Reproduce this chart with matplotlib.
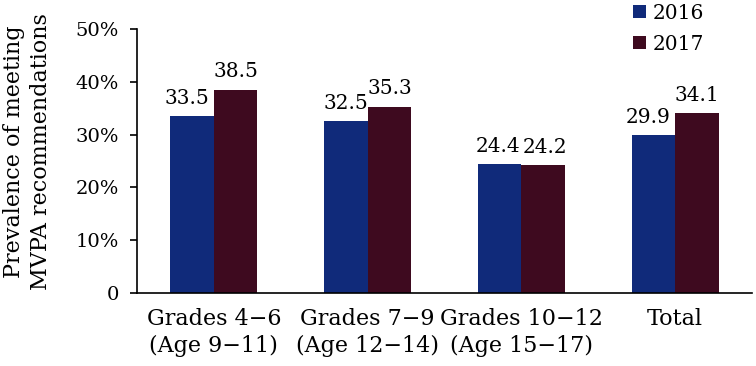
import matplotlib.pyplot as plt
import numpy as np

plt.rcParams['font.family'] = ['DejaVu Serif']
plt.rcParams['font.size'] = 14.5

categories = ["Grades 4\u22126\n(Age 9\u221211)", "Grades 7\u22129\n(Age 12\u221214)",
              "Grades 10\u221212\n(Age 15\u221217)", "Total"]
vals_2016 = [33.5, 32.5, 24.4, 29.9]
vals_2017 = [38.5, 35.3, 24.2, 34.1]
yticks = [0, 10, 20, 30, 40, 50]
ytick_labels = ["0", "10%", "20%", "30%", "40%", "50%"]

c16 = "#102a7a"
c17 = "#3e0a1f"
w = 0.283

fig = plt.figure(figsize=(7.56, 3.66), dpi=100)
ax = fig.add_axes([137 / 756, 1 - 293 / 366, 615 / 756, 264 / 366])

x = np.arange(len(categories))
b1 = ax.bar(x - w / 2, vals_2016, w, color=c16, label="2016")
b2 = ax.bar(x + w / 2, vals_2017, w, color=c17, label="2017")

# nudge labels sideways so they do not run into the neighbour bar / label
for i, (v1, v2) in enumerate(zip(vals_2016, vals_2017)):
    dx1, dx2 = 0, 0
    if v2 - v1 > 3:
        dx1 = -4
    elif abs(v2 - v1) < 1:
        dx1, dx2 = -1.5, 1.5
    ax.annotate(f"{v1}", (x[i] - w / 2, v1), xytext=(dx1, 6), textcoords="offset points",
                ha="center", va="bottom", fontsize=14.5)
    ax.annotate(f"{v2}", (x[i] + w / 2, v2), xytext=(dx2, 6), textcoords="offset points",
                ha="center", va="bottom", fontsize=14.5)

ax.set_xlim(-0.5, 3.5)
ax.set_ylim(0, 50)
ax.set_yticks(yticks)
ax.set_yticklabels(ytick_labels, fontsize=14)
ax.set_xticks(x)
ax.set_xticklabels(categories, linespacing=1.3, fontsize=16)
ax.tick_params(axis="x", length=0, pad=11)
ax.tick_params(axis="y", length=5, width=1.2, pad=8)
for s in ["top", "right"]:
    ax.spines[s].set_visible(False)
ax.spines["left"].set_linewidth(1.2)
ax.spines["bottom"].set_linewidth(1.2)

ax.set_ylabel("Prevalence of meeting\nMVPA recommendations", linespacing=1.25, fontsize=16)
ax.yaxis.set_label_coords(-0.139, 0.535)

fig.legend(handles=[b1, b2], loc="upper left", bbox_to_anchor=(633 / 756, 0.99),
           frameon=False, handlelength=0.65, handleheight=0.65, handletextpad=0.35,
           labelspacing=0.6, borderaxespad=0, borderpad=0, fontsize=14.5)

fig.savefig("out.png", dpi=100)
